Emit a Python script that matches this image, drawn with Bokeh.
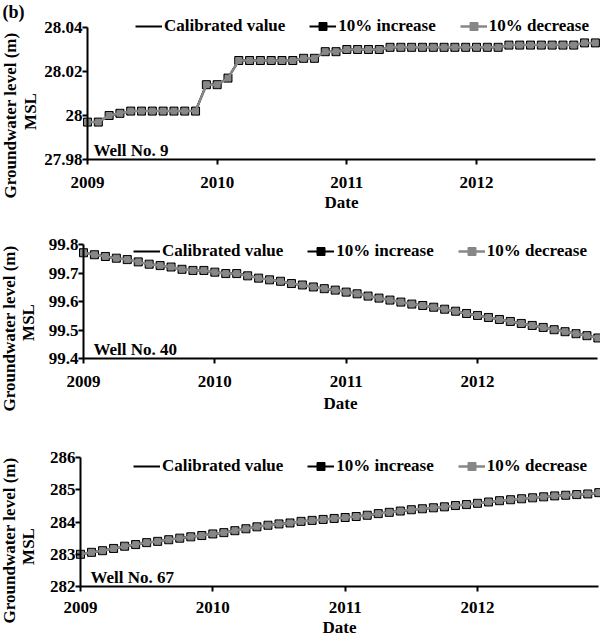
from bokeh.plotting import figure
from bokeh.layouts import column
from bokeh.models import (FixedTicker, Legend, LegendItem, Label, Range1d,
                          NumeralTickFormatter, LinearAxis)
from bokeh.embed import file_html
from bokeh.resources import INLINE

FONT = "Liberation Serif"
GRAY = "#878787"

# ---------------- data ----------------
months = list(range(48))                # Jan 2009 ... Dec 2012
year_ticks = [0, 12, 24, 36]
year_labels = ["2009", "2010", "2011", "2012"]

well9_cal = [27.997, 27.997, 28.000, 28.001, 28.002, 28.002, 28.002, 28.002,
             28.002, 28.002, 28.002, 28.014, 28.014, 28.017, 28.025, 28.025,
             28.025, 28.025, 28.025, 28.025, 28.026, 28.026, 28.029, 28.029,
             28.030, 28.030, 28.030, 28.030, 28.031, 28.031, 28.031, 28.031,
             28.031, 28.031, 28.031, 28.031, 28.031, 28.031, 28.031, 28.032,
             28.032, 28.032, 28.032, 28.032, 28.032, 28.032, 28.033, 28.033]
well9_inc = list(well9_cal)
well9_dec = list(well9_cal)
well9_yticks = [27.98, 28.00, 28.02, 28.04]

well40_cal = [99.771, 99.764, 99.758, 99.752, 99.747, 99.739, 99.731, 99.726,
              99.721, 99.713, 99.709, 99.709, 99.703, 99.698, 99.698, 99.690,
              99.682, 99.676, 99.671, 99.663, 99.658, 99.651, 99.645, 99.640,
              99.633, 99.627, 99.619, 99.612, 99.605, 99.598, 99.591, 99.586,
              99.580, 99.573, 99.566, 99.558, 99.551, 99.544, 99.537, 99.530,
              99.523, 99.516, 99.509, 99.501, 99.494, 99.487, 99.480, 99.472]
well40_inc = list(well40_cal)
well40_dec = list(well40_cal)
well40_yticks = [99.4, 99.5, 99.6, 99.7, 99.8]

well67_cal = [283.00, 283.06, 283.11, 283.18, 283.25, 283.30, 283.36, 283.40,
              283.45, 283.50, 283.54, 283.58, 283.63, 283.67, 283.73, 283.79,
              283.85, 283.90, 283.94, 283.97, 284.02, 284.05, 284.08, 284.11,
              284.14, 284.17, 284.21, 284.26, 284.30, 284.34, 284.38, 284.41,
              284.44, 284.47, 284.51, 284.54, 284.58, 284.62, 284.66, 284.69,
              284.72, 284.75, 284.78, 284.81, 284.83, 284.85, 284.87, 284.91]
well67_inc = list(well67_cal)
well67_dec = list(well67_cal)
well67_yticks = [282, 283, 284, 285, 286]

series_names = ["Calibrated value", "10% increase", "10% decrease"]
y_title = "Groundwater level (m)"
y_title2 = "MSL"

W = 600          # figure width (px)


def style_axis(ax):
    ax.axis_line_width = 2
    ax.axis_line_color = "black"
    ax.major_tick_line_width = 2
    ax.major_tick_line_color = "black"
    ax.major_tick_out = 5
    ax.major_tick_in = 0
    ax.minor_tick_out = 0
    ax.minor_tick_in = 0
    ax.major_label_text_font = FONT
    ax.major_label_text_font_size = "17px"
    ax.major_label_text_font_style = "bold"
    ax.major_label_text_color = "black"


def make_panel(cal, inc, dec, yticks, yfmt, well_text, height, plot_top,
               plot_bottom, axis_x, last_tick_x, tick_standoff,
               xlabel_standoff, leg_x, leg_center, well_x, gw_x, msl_x,
               gw_y, msl_y, panel_tag=None):
    """plot_top / plot_bottom: pixel rows (from figure top) of the first and
    last y tick; axis_x / last_tick_x: pixel columns of the y axis and of
    the last year tick."""
    y_lo, y_hi = yticks[0], yticks[-1]
    ppu = (plot_bottom - plot_top) / (y_hi - y_lo)
    y_top = y_hi + plot_top / ppu
    y_bot = y_lo - (height - plot_bottom) / ppu
    ppm = (last_tick_x - axis_x) / (year_ticks[-1] - year_ticks[0])
    x_start = -axis_x / ppm
    x_end = (W - axis_x) / ppm

    p = figure(width=W, height=height, output_backend="svg",
               toolbar_location=None, y_axis_location=None,
               x_axis_location=None,
               x_range=Range1d(x_start, x_end),
               y_range=Range1d(y_bot, y_top),
               min_border_left=0, min_border_right=0, min_border_top=0,
               min_border_bottom=0)
    p.outline_line_color = None
    p.grid.visible = False

    ya = LinearAxis(fixed_location=0, bounds=(y_lo, y_hi),
                    ticker=FixedTicker(ticks=yticks),
                    formatter=NumeralTickFormatter(format=yfmt))
    xa = LinearAxis(fixed_location=y_lo, bounds=(0, months[-1]),
                    ticker=FixedTicker(ticks=year_ticks))
    style_axis(ya)
    style_axis(xa)
    p.add_layout(ya, "left")
    p.add_layout(xa, "below")

    xa.major_label_overrides = dict(zip(year_ticks, year_labels))
    xa.major_label_standoff = tick_standoff
    xa.axis_label = "Date"
    xa.axis_label_text_font = FONT
    xa.axis_label_text_font_size = "17px"
    xa.axis_label_text_font_style = "bold"
    xa.axis_label_text_color = "black"
    xa.axis_label_standoff = xlabel_standoff
    ya.major_label_standoff = 0

    r_cal = p.line(months, cal, line_color="black", line_width=2)
    r_inc_l = p.line(months, inc, line_color="black", line_width=2)
    r_inc_m = p.scatter(months, inc, marker="square", size=8,
                        fill_color="black", line_color="black")
    r_dec_l = p.line(months, dec, line_color=GRAY, line_width=2.5)
    r_dec_m = p.scatter(months, dec, marker="square", size=6,
                        fill_color=GRAY, line_color=GRAY)

    legend = Legend(items=[
        LegendItem(label=series_names[0], renderers=[r_cal]),
        LegendItem(label=series_names[1], renderers=[r_inc_l, r_inc_m]),
        LegendItem(label=series_names[2], renderers=[r_dec_l, r_dec_m]),
    ], orientation="horizontal",
        location=(leg_x, height - leg_center - 11),
        border_line_color=None, background_fill_alpha=0,
        padding=0, margin=0, spacing=24, glyph_width=27, glyph_height=20,
        label_standoff=2, label_height=20,
        label_text_font=FONT, label_text_font_size="17px",
        label_text_font_style="bold", label_text_color="black")
    p.add_layout(legend)

    def lab(**kw):
        base = dict(x_units="screen", y_units="screen", text_font=FONT,
                    text_font_size="17px", text_font_style="bold",
                    text_color="black")
        base.update(kw)
        p.add_layout(Label(**base))

    lab(x=well_x, y=height - plot_bottom, text=well_text)
    lab(x=gw_x, y=height - gw_y, text=y_title, angle=90, angle_units="deg",
        text_align="center", text_baseline="middle")
    lab(x=msl_x, y=height - msl_y, text=y_title2, angle=90,
        angle_units="deg", text_align="center", text_baseline="middle")
    if panel_tag:
        lab(x=2, y=height - 1, text=panel_tag, text_baseline="top",
            text_font_size="18px")
    return p


p1 = make_panel(well9_cal, well9_inc, well9_dec, well9_yticks, "0.[00]",
                "Well No. 9", height=220, plot_top=27, plot_bottom=159,
                axis_x=87, last_tick_x=476, tick_standoff=12,
                xlabel_standoff=2, leg_x=135, leg_center=25, well_x=93,
                gw_x=10, msl_x=30, gw_y=115, msl_y=111, panel_tag="(b)")
p2 = make_panel(well40_cal, well40_inc, well40_dec, well40_yticks, "0.0",
                "Well No. 40", height=220, plot_top=24, plot_bottom=138,
                axis_x=83, last_tick_x=477, tick_standoff=12,
                xlabel_standoff=4, leg_x=133, leg_center=30, well_x=93,
                gw_x=9, msl_x=28, gw_y=108, msl_y=102)
p3 = make_panel(well67_cal, well67_inc, well67_dec, well67_yticks, "0",
                "Well No. 67", height=197, plot_top=17, plot_bottom=146,
                axis_x=80, last_tick_x=477, tick_standoff=10,
                xlabel_standoff=2, leg_x=133, leg_center=25, well_x=90,
                gw_x=9, msl_x=28, gw_y=100, msl_y=106)

layout = column(p1, p2, p3, spacing=0)
open("out.html", "w").write(file_html(layout, INLINE))
